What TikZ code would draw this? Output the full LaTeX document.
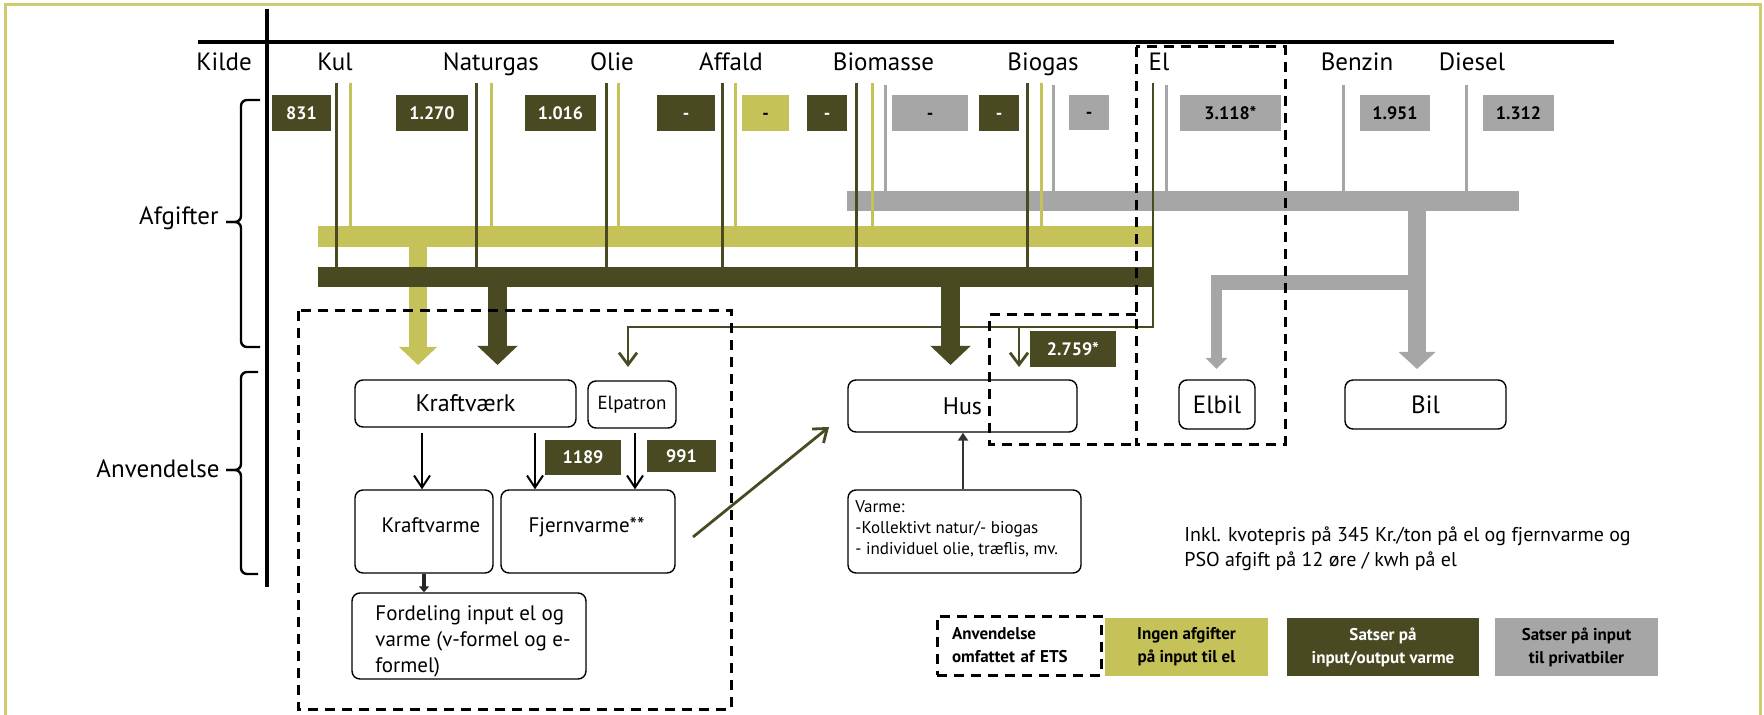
\documentclass[tikz,border=0pt]{standalone}
\usepackage{fontspec}
\setmainfont{PT Sans}
\usetikzlibrary{arrows.meta}
\definecolor{ylw}{HTML}{C6C25A}
\definecolor{olv}{HTML}{4A4A22}
\definecolor{gry}{HTML}{A6A6A6}
\definecolor{frm}{HTML}{CFCB70}
\begin{document}
\begin{tikzpicture}[x=0.5pt,y=-0.5pt,
  hdr/.style={font=\fontsize{12.5}{15}\selectfont, anchor=base, inner sep=0pt},
  val/.style={inner sep=0pt, minimum height=18pt, text height=6.4pt, text depth=0pt, font=\bfseries\fontsize{9}{10}\selectfont},
  vd/.style={val, fill=olv, text=white},
  vy/.style={val, fill=ylw, text=black},
  vg/.style={val, fill=gry, text=black},
  rbox/.style={draw=black, line width=0.7pt, rounded corners=4pt, fill=white, inner sep=0pt},
  srcline/.style={line width=1.5pt},
  ets/.style={draw=black, dash pattern=on 5pt off 3.5pt, line width=1.5pt},
  olvarrow/.style={draw=olv, line width=1.4pt, -{Straight Barb[length=6pt,width=9pt]}},
  blkarrow/.style={draw=black, line width=1pt, -{Straight Barb[length=6pt,width=8pt]}},
  bracepath/.style={draw=black, line width=1.2pt, rounded corners=3pt},
  leg/.style={inner sep=0pt, minimum height=29pt, font=\bfseries\fontsize{8.5}{11.5}\selectfont, align=center}
]
\useasboundingbox (0,0) rectangle (1764,715);
% frame
\draw[frm, line width=1.5pt] (5,730) -- (5,5) -- (1760,5) -- (1760,730);
% axes
\draw[line width=2pt] (267,9) -- (267,587);
\draw[line width=2pt] (198,42) -- (1614,42);
% headers
\node[hdr] (kilde) at (224,71) {Kilde};
\node[hdr] (kul) at (335,71) {Kul};
\node[hdr] (ngas) at (491,71) {Naturgas};
\node[hdr] (olie) at (612,71) {Olie};
\node[hdr] (affald) at (731,71) {Affald};
\node[hdr] (biom) at (883.5,71) {Biomasse};
\node[hdr] (biog) at (1043,71) {Biogas};
\node[hdr] (el) at (1159,71) {El};
\node[hdr] (benzin) at (1357,71) {Benzin};
\node[hdr] (diesel) at (1472,71) {Diesel};
% braces
\node[hdr, anchor=base east] (afg) at (219,225) {Afgifter};
\node[hdr, anchor=base east] (anv) at (220,477) {Anvendelse};
\draw[bracepath] (260,100) -- (241,100) -- (241,222) -- (226,222);
\draw[bracepath] (226,222) -- (241,222) -- (241,347) -- (260,347);
\draw[bracepath] (258,372) -- (241,372) -- (241,470) -- (226,470);
\draw[bracepath] (226,470) -- (241,470) -- (241,574) -- (258,574);
% bars and flow arrows
\fill[gry] (847,191) rectangle (1519,211);
\fill[ylw] (318,226) rectangle (1153,247);
\draw[ylw, line width=9pt, -{Triangle[width=18.5pt,length=9pt]}] (418,247) -- (418,365);
\fill[olv] (318,267) rectangle (1154,287);
\draw[olv, line width=9.5pt, -{Triangle[width=19.5pt,length=9.5pt]}] (497.5,287) -- (497.5,365);
\draw[olv, line width=9.5pt, -{Triangle[width=19.5pt,length=9.5pt]}] (950.5,287) -- (950.5,365);
\draw[gry, line width=9pt, -{Triangle[width=18pt,length=8.5pt]}] (1417,211) -- (1417,369);
\fill[gry] (1211,275) rectangle (1426,290);
\draw[gry, line width=5.5pt, -{Triangle[width=10.5pt,length=5.5pt]}] (1216.5,282) -- (1216.5,369);
% source lines
\foreach \x in {350,491,618,735,872,1041} \draw[srcline, ylw] (\x,83) -- (\x,226);
\foreach \x in {885,1053,1166,1343,1466} \draw[srcline, gry] (\x,85) -- (\x,191);
\foreach \x in {336,476,606,722,856,1027} \draw[srcline, olv] (\x,83) -- (\x,267);
% value boxes
\node[vd, minimum width=29.5pt] (v831) at (301.5,113) {831};
\node[vd, minimum width=36pt] (v1270) at (432,113) {1.270};
\node[vd, minimum width=35.5pt] (v1016) at (560.5,113) {1.016};
\node[vd, minimum width=29pt] (vaf1) at (686,113) {-};
\node[vy, minimum width=23.5pt] (vaf2) at (765.5,113) {-};
\node[vd, minimum width=20pt] (vbm1) at (827,113) {-};
\node[vg, minimum width=38pt] (vbm2) at (930,113) {-};
\node[vd, minimum width=20pt] (vbg1) at (999,113) {-};
\node[vg, minimum width=20pt, minimum height=17.5pt] (vbg2) at (1089,112.5) {-};
\node[vg, minimum width=50.5pt] (v3118) at (1230.5,113) {3.118*};
\node[vg, minimum width=35pt] (v1951) at (1395,113) {1.951};
\node[vg, minimum width=35.5pt] (v1312) at (1518.5,113) {1.312};
% usage boxes
\node[rbox, minimum width=110.5pt, minimum height=23.5pt, font=\fontsize{12}{14}\selectfont, text height=8.5pt, text depth=0pt] (kraft) at (465.5,403.5) {Kraftværk};
\node[rbox, minimum width=44pt, minimum height=23.5pt, font=\fontsize{9.5}{11}\selectfont, text height=6.8pt, text depth=1.5pt] (elpat) at (632,404.5) {Elpatron};
\node[rbox, minimum width=114.5pt, minimum height=26pt, font=\fontsize{12}{14}\selectfont, text height=8.5pt, text depth=0pt] (hus) at (962.5,406) {Hus};
\node[rbox, minimum width=38pt, minimum height=24.5pt, font=\fontsize{12.5}{14}\selectfont, text height=8.8pt, text depth=0pt] (elbil) at (1217,404.5) {Elbil};
\node[rbox, minimum width=80.5pt, minimum height=24.5pt, font=\fontsize{12.5}{14}\selectfont, text height=8.8pt, text depth=0pt] (bil) at (1425.5,404.5) {Bil};
\node[rbox, minimum width=69pt, minimum height=41.5pt] (kvarme) at (424,531.5) {};
\node[font=\fontsize{10.5}{12}\selectfont, anchor=base, inner sep=0pt] (kvarmeT) at (431,532) {Kraftvarme};
\node[rbox, minimum width=87pt, minimum height=41.5pt] (fjern) at (588,531.5) {};
\node[font=\fontsize{10.5}{12}\selectfont, anchor=base, inner sep=0pt] (fjernT) at (586.5,532) {Fjernvarme**};
\node[rbox, minimum width=117pt, minimum height=43pt] (ford) at (469,636) {};
\node[font=\fontsize{10.5}{13}\selectfont, anchor=north west, inner sep=0pt, align=left] (fordT) at (375,605) {Fordeling input el og\\varme (v-formel og e-\\formel)};
\node[rbox, minimum width=116.5pt, minimum height=41.5pt] (varme) at (964.5,531.5) {};
\node[font=\fontsize{8.5}{10.5}\selectfont, anchor=north west, inner sep=0pt, align=left] (varmeT) at (855,500) {Varme:\\-Kollektivt natur/- biogas\\- individuel olie, træflis, mv.};
% inner value boxes
\node[vd, minimum width=38pt, minimum height=17.5pt] (v1189) at (583,457.5) {1189};
\node[vd, minimum width=34.5pt, minimum height=16pt] (v991) at (681.5,456) {991};
\node[vd, minimum width=43pt] (v2759) at (1073,349) {2.759*};
% thin arrows
\draw[olvarrow] (1153,83) -- (1153,327) -- (628,327) -- (628,367);
\draw[olvarrow] (1019,327) -- (1019,367);
\draw[olvarrow] (693,537) -- (829,427);
\draw[blkarrow] (422,433) -- (kvarme.north -| 422,0);
\draw[blkarrow] (535,433) -- (fjern.north -| 535,0);
\draw[blkarrow] (635,433) -- (fjern.north -| 635,0);
\draw[line width=2pt, draw=black!85, -{Triangle[width=5pt,length=3pt]}] (kvarme.south -| 424,0) -- (ford.north -| 424,0);
\draw[line width=1.3pt, draw=black!80, -{Triangle[width=5pt,length=4pt]}] (varme.north -| 963,0) -- (hus.south -| 963,0);
% note
\node[font=\fontsize{10}{12.5}\selectfont, anchor=north west, inner sep=0pt, align=left] (note) at (1184,526) {Inkl. kvotepris på 345 Kr./ton på el og fjernvarme og\\PSO afgift på 12 øre / kwh på el};
% ETS dashed regions
\draw[ets] (298,311) rectangle (731,709);
\draw[ets] (1136,47) rectangle (1285,444);
\draw[ets] (1136,315) -- (989,315) -- (989,444) -- (1136,444);
% legend
\node[leg, ets, minimum width=82pt, minimum height=29.5pt, text width=67pt, align=left] (legets) at (1019,645.5) {Anvendelse\\omfattet af ETS};
\node[leg, fill=ylw, minimum width=81.5pt] (legy) at (1186.5,647) {Ingen afgifter\\på input til el};
\node[leg, fill=olv, text=white, minimum width=96pt] (legd) at (1383,647) {Satser på\\input/output varme};
\node[leg, fill=gry, minimum width=81.5pt] (legg) at (1576.5,647) {Satser på input\\til privatbiler};
\end{tikzpicture}
\end{document}
